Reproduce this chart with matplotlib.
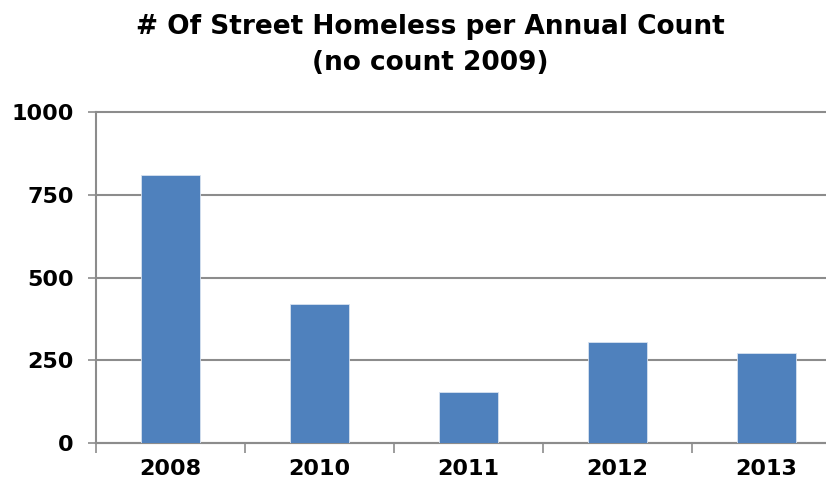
import matplotlib
matplotlib.use("Agg")
import matplotlib.pyplot as plt
import numpy as np

years = ["2008", "2010", "2011", "2012", "2013"]
counts = [810, 420, 154, 305, 272]
yticks = [0, 250, 500, 750, 1000]

W, H = 826, 487
fig = plt.figure(figsize=(W / 100, H / 100), dpi=100)
ax = fig.add_axes([96 / W, 1 - 442.7 / H, (841 - 96) / W, (442.7 - 112.3) / H])

x = np.arange(len(years))
ax.bar(x, counts, width=0.4, color="#4F81BD", edgecolor="#d8e2f0", linewidth=0.6, zorder=3)

ax.set_xlim(-0.5, len(years) - 0.5)
ax.set_ylim(0, 1000)
ax.set_yticks(yticks)
ax.set_yticklabels([str(v) for v in yticks], fontsize=16, fontweight="bold")
ax.set_xticks(x)
ax.set_xticklabels(years, fontsize=16, fontweight="bold")
ax.tick_params(axis="x", length=0, pad=12)
ax.tick_params(axis="y", length=6, width=1.2, color="#8c8c8c", pad=10)
# category boundary ticks
ax.set_xticks(np.arange(-0.5, len(years) + 0.5, 1), minor=True)
ax.tick_params(axis="x", which="minor", length=7, width=1.2, color="#8c8c8c")

ax.grid(axis="y", color="#8c8c8c", linewidth=1.5, zorder=0)
for gl in ax.get_ygridlines():
    gl.set_clip_on(False)
for s in ["top", "right"]:
    ax.spines[s].set_visible(False)
for s in ["left", "bottom"]:
    ax.spines[s].set_color("#8c8c8c")
    ax.spines[s].set_linewidth(1.5)

fig.text(430 / W, 1 - 45 / H, "# Of Street Homeless per Annual Count\n(no count 2009)",
         ha="center", va="center", fontsize=19, fontweight="bold", linespacing=1.45)

fig.savefig("out.png", dpi=100)
